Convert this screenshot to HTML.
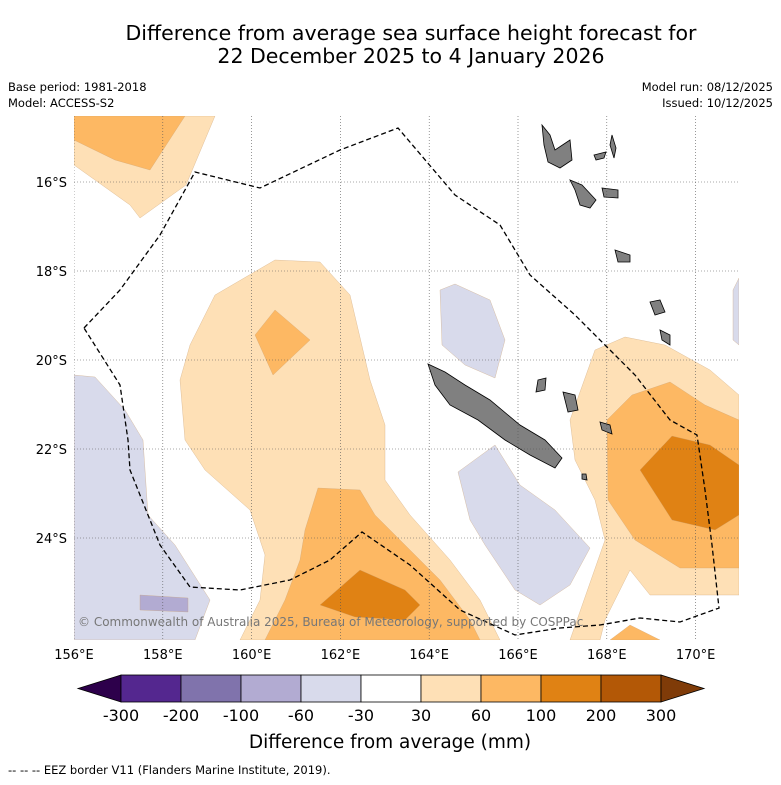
<!DOCTYPE html>
<html><head><meta charset="utf-8"><style>
body{margin:0;background:#fff;font-family:"DejaVu Sans",sans-serif}
</style></head><body>
<svg width="781" height="781" viewBox="0 0 781 781" xmlns="http://www.w3.org/2000/svg" font-family="DejaVu Sans, sans-serif">
<text x="411" y="40" font-size="20.5" text-anchor="middle">Difference from average sea surface height forecast for</text>
<text x="411" y="63" font-size="20.5" text-anchor="middle">22 December 2025 to 4 January 2026</text>
<text x="8" y="91" font-size="11.5">Base period: 1981-2018</text>
<text x="8" y="107" font-size="11.5">Model: ACCESS-S2</text>
<text x="773" y="91" font-size="11.5" text-anchor="end">Model run: 08/12/2025</text>
<text x="773" y="107" font-size="11.5" text-anchor="end">Issued: 10/12/2025</text>
<defs><clipPath id="mc"><rect x="74" y="116" width="665" height="524"/></clipPath></defs>
<g id="map" clip-path="url(#mc)"></g>
<g id="axes"></g>
<g id="cbar"></g>
<text x="390" y="748" font-size="18.5" text-anchor="middle">Difference from average (mm)</text>
<text x="8" y="774" font-size="11.5">--  --  -- EEZ border V11 (Flanders Marine Institute, 2019).</text>
</svg>
<script>
const lonTicks=[156,158,160,162,164,166,168,170];
const latTicks=[16,18,20,22,24];
const cbLabels=["-300","-200","-100","-60","-30","30","60","100","200","300"];
const cbColors=["#54278f","#8073ac","#b2abd2","#d8daeb","#ffffff","#fee0b6","#fdb863","#e08214","#b35806"];
const NS="http://www.w3.org/2000/svg";
const X=lon=>74+(lon-156)*44.4, Y=lat=>182+(lat-16)*44.5;
function mk(t,a,p){const e=document.createElementNS(NS,t);for(const k in a)e.setAttribute(k,a[k]);p.appendChild(e);return e;}
const map=document.getElementById('map');
const shapes=[
["#fee0b6","74,116 215,116 186,185 140,218 130,205 74,165","contour-30-60-nw"],
["#fdb863","74,116 185,116 150,170 115,160 74,140","contour-60-100-nw"],
["#fee0b6","215,295 275,260 320,262 350,295 370,380 385,425 385,480 410,515 450,560 480,600 500,640 240,640 260,600 265,555 250,510 205,470 185,440 180,380 190,345","contour-30-60-central"],
["#fdb863","255,335 275,310 310,340 273,375","contour-60-100-central"],
["#fdb863","318,488 360,490 375,515 400,540 440,580 470,620 480,640 265,640 285,600 300,560 305,530","contour-60-100-south"],
["#e08214","320,605 360,570 405,590 420,605 405,620 355,617","contour-100-200-south"],
["#fee0b6","570,420 595,350 625,337 665,345 710,370 739,395 739,595 650,595 630,570 605,620 600,640 570,640 605,540 595,500 575,460","contour-30-60-east"],
["#fdb863","607,420 632,395 670,382 705,405 739,420 739,568 680,568 635,540 608,500","contour-60-100-east"],
["#fdb863","610,640 630,625 660,640","contour-60-100-se"],
["#e08214","640,470 672,436 710,445 739,465 739,515 715,530 672,520","contour-100-200-east"],
["#d8daeb","74,375 95,377 125,410 143,440 148,515 175,545 210,600 195,640 74,640","contour-neg-west"],
["#b2abd2","140,595 188,598 188,612 140,610","contour-neg60-west"],
["#d8daeb","440,290 455,284 490,300 505,340 495,378 465,365 442,345","contour-neg-central"],
["#d8daeb","458,472 495,445 520,485 555,510 590,548 570,585 540,605 515,590 485,545 470,520","contour-neg-southeast"],
["#d8daeb","733,290 739,278 739,345 733,340","contour-neg-east"],
["#808080","428,364 445,372 465,385 490,400 520,425 545,440 562,458 555,468 530,455 505,440 478,420 450,405 435,385","new-caledonia"],
["#808080","542,125 550,135 555,150 570,140 572,160 560,168 548,162 544,145","vanuatu-north"],
["#808080","570,180 582,185 596,200 590,208 580,205 575,190","vanuatu-island-2"],
["#808080","602,188 618,190 618,198 604,197","vanuatu-island-3"],
["#808080","612,135 616,148 614,158 610,145","vanuatu-island-4"],
["#808080","594,155 606,152 604,158 596,160","vanuatu-island-5"],
["#808080","615,250 630,255 630,262 618,262","vanuatu-south"],
["#808080","650,302 660,300 665,312 655,315","matthew-island"],
["#808080","660,330 670,335 670,345 662,340","hunter-area"],
["#808080","563,392 575,395 578,410 568,412","loyalty-1"],
["#808080","600,422 610,425 612,434 602,430","loyalty-2"],
["#808080","582,474 586,474 587,480 582,479","loyalty-3"],
["#808080","538,380 546,378 545,390 536,392","loyalty-4"]
];
shapes.forEach(s=>{const e=mk('polygon',{points:s[1],fill:s[0],stroke:s[0]=="#808080"?"#000":"#c9a070","stroke-width":s[0]=="#808080"?0.8:0.3},map);

});
lonTicks.forEach(l=>{const e=mk('line',{x1:X(l),x2:X(l),y1:116,y2:640,stroke:"#555","stroke-width":0.6,"stroke-dasharray":"1,2"},map);

});
latTicks.forEach(l=>{const e=mk('line',{x1:74,x2:739,y1:Y(l),y2:Y(l),stroke:"#555","stroke-width":0.6,"stroke-dasharray":"1,2"},map);

});
const eez=mk('polyline',{points:"84,328 120,290 160,235 195,172 260,188 340,150 398,128 455,195 500,225 530,275 575,315 605,345 635,375 670,420 697,435 705,490 712,545 719,608 680,622 640,618 600,625 560,628 515,635 460,610 410,565 362,532 330,560 290,580 240,590 190,587 160,545 130,470 128,440 120,385 84,328",fill:"none",stroke:"#000","stroke-width":1.3,"stroke-dasharray":"5,3"},map);


const cp=mk('text',{x:78,y:626,"font-size":12,fill:"#777"},map);cp.textContent="© Commonwealth of Australia 2025, Bureau of Meteorology, supported by COSPPac";


const ax=document.getElementById('axes');
lonTicks.forEach(l=>{const t=mk('text',{x:X(l),y:659,"font-size":13,"text-anchor":"middle"},ax);t.textContent=l+"°E";

});
latTicks.forEach(l=>{const t=mk('text',{x:67,y:Y(l)+5,"font-size":13,"text-anchor":"end"},ax);t.textContent=l+"°S";

});
const cb=document.getElementById('cbar');
const bw=60,bx=121;
let t1=mk('polygon',{points:"78,688.5 121,675 121,702",fill:"#2d004b",stroke:"#000","stroke-width":0.8},cb);


cbColors.forEach((c,i)=>{const r=mk('rect',{x:bx+i*bw,y:675,width:bw,height:27,fill:c,stroke:"#000","stroke-width":0.8},cb);

});
let t2=mk('polygon',{points:"661,675 704,688.5 661,702",fill:"#7f3b08",stroke:"#000","stroke-width":0.8},cb);


cbLabels.forEach((s,i)=>{const t=mk('text',{x:bx+i*bw,y:721,"font-size":16,"text-anchor":"middle"},cb);t.textContent=s;

});
</script>
</body></html>
